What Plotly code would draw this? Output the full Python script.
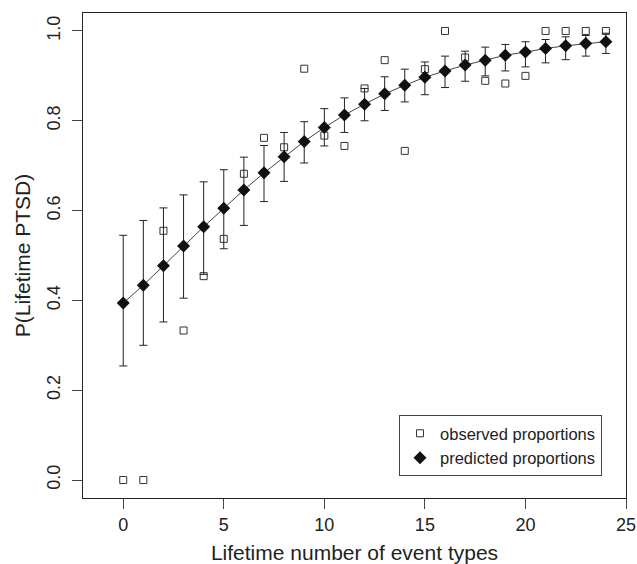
import plotly.graph_objects as go

# Lifetime number of event types
event_types = list(range(25))

# Observed proportions (open squares)
observed = [0.0, 0.0, 0.555, 0.333, 0.454, 0.537, 0.682, 0.762, 0.741, 0.916,
            0.767, 0.744, 0.872, 0.935, 0.733, 0.915, 1.0, 0.941, 0.889, 0.883,
            0.900, 1.0, 1.0, 1.0, 1.0]

# Predicted proportions (filled diamonds)
predicted = [0.394, 0.434, 0.477, 0.521, 0.564, 0.605, 0.646, 0.684, 0.720, 0.754,
             0.785, 0.813, 0.837, 0.860, 0.879, 0.897, 0.911, 0.924, 0.935, 0.946,
             0.953, 0.961, 0.967, 0.972, 0.976]

# Confidence interval bounds of predicted proportions
ci_upper = [0.545, 0.578, 0.606, 0.635, 0.664, 0.691, 0.719, 0.745, 0.774, 0.798,
            0.827, 0.851, 0.872, 0.898, 0.915, 0.931, 0.944, 0.955, 0.964, 0.970,
            0.976, 0.981, 0.987, 0.990, 0.995]
ci_lower = [0.254, 0.300, 0.352, 0.405, 0.458, 0.515, 0.567, 0.620, 0.665, 0.706,
            0.744, 0.774, 0.800, 0.823, 0.842, 0.858, 0.874, 0.888, 0.900, 0.911,
            0.920, 0.929, 0.936, 0.944, 0.950]

x_ticks = [0, 5, 10, 15, 20, 25]
y_ticks = [0.0, 0.2, 0.4, 0.6, 0.8, 1.0]
y_tick_labels = ["0.0", "0.2", "0.4", "0.6", "0.8", "1.0"]

err_plus = [u - p for u, p in zip(ci_upper, predicted)]
err_minus = [p - l for p, l in zip(predicted, ci_lower)]

FONT = "Liberation Sans, Arial, sans-serif"

fig = go.Figure()

fig.add_trace(go.Scatter(
    x=event_types, y=observed, mode="markers", name="observed proportions",
    marker=dict(symbol="square-open", size=7, color="#333333", line=dict(width=1, color="#333333")),
))

fig.add_trace(go.Scatter(
    x=event_types, y=predicted, mode="lines", showlegend=False,
    line=dict(color="#444444", width=1), hoverinfo="skip",
))

fig.add_trace(go.Scatter(
    x=event_types, y=predicted, mode="markers", name="predicted proportions",
    marker=dict(symbol="diamond", size=10, color="#111111"),
    error_y=dict(type="data", symmetric=False, array=err_plus, arrayminus=err_minus,
                 color="#222222", thickness=1, width=4),
))

axis_common = dict(
    showline=True, linecolor="#222222", linewidth=1, mirror=True,
    ticks="outside", ticklen=10, tickcolor="#444444", tickwidth=1,
    showgrid=False, zeroline=False, automargin=False,
    tickfont=dict(family=FONT, size=18, color="#222222"),
)

fig.update_layout(
    width=637, height=564,
    margin=dict(l=83, r=11, t=13, b=66),
    paper_bgcolor="white", plot_bgcolor="white",
    font=dict(family=FONT, color="#222222"),
    xaxis=dict(range=[-2, 25], tickvals=x_ticks,
               title=dict(text="Lifetime number of event types", font=dict(family=FONT, size=21), standoff=15),
               **axis_common),
    yaxis=dict(range=[-0.04, 1.04], tickvals=y_ticks, ticktext=y_tick_labels, tickangle=-90,
               ticklabelstandoff=5,
               title=dict(text="P(Lifetime PTSD)", font=dict(family=FONT, size=21), standoff=7),
               **axis_common),
    legend=dict(x=0.582, y=0.171, xanchor="left", yanchor="top",
                bgcolor="white", bordercolor="#444444", borderwidth=1,
                font=dict(family=FONT, size=16.5, color="#222222"),
                itemwidth=30, tracegroupgap=0),
    showlegend=True,
)

# Remove the page's default body margin so the figure fills the window exactly.
fig.write_html("out.html", config={"displayModeBar": False},
               post_script="document.body.style.margin='0';document.body.style.overflow='hidden';")
